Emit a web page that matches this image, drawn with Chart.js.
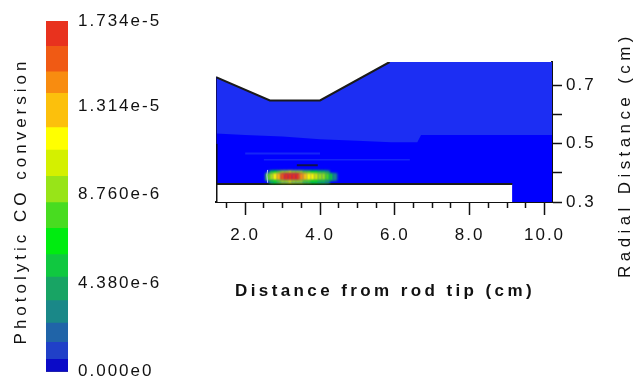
<!DOCTYPE html>
<html>
<head>
<meta charset="utf-8">
<script src="https://cdn.jsdelivr.net/npm/chart.js@4.4.1/dist/chart.umd.min.js"></script>
<style>
  html, body { margin: 0; padding: 0; background: #fff; width: 637px; height: 392px; overflow: hidden; }
  #colorbar { position: absolute; left: 0; top: 0; }
  #field { position: absolute; left: 200px; top: 0; }
</style>
</head>
<body>
<canvas id="colorbar" width="200" height="392"></canvas>
<canvas id="field" width="437" height="392"></canvas>
<script>
// Contour levels of photolytic CO conversion (band edges, low to high)
const levels = [0, 0.62e-6, 1.46e-6, 2.41e-6, 3.52e-6, 4.68e-6, 5.79e-6, 7.09e-6, 8.36e-6,
                9.66e-6, 10.96e-6, 12.07e-6, 13.77e-6, 14.83e-6, 16.09e-6, 1.734e-5];
const levelColors = ['#0a0ac8', '#2040c8', '#2064a8', '#1a8888', '#18a464', '#10c840', '#00ec10',
                     '#48dc20', '#98e418', '#d4f000', '#ffff00', '#fcc00c', '#f88c10', '#f05a14', '#e8321e'];
const colorbarTicks = [0, 4.38e-6, 8.76e-6, 1.314e-5, 1.734e-5];

// Axis ranges and ticks of the field plot
const xRange = [1.22, 10.2];
const yRange = [0.3, 0.78];
const xTickValues = [2, 4, 6, 8, 10];
const xMinorTickValues = [1.5, 2.5, 3, 3.5, 4.5, 5, 5.5, 6.5, 7, 7.5, 8.5, 9, 9.5];
const yTickValues = [0.3, 0.4, 0.5, 0.6, 0.7];
const yTickLabels = ['0.3', '', '0.5', '', '0.7'];

// Reactor domain: upper boundary (distance, radius)
const domainX = [1.22, 2.66, 4.0, 5.86, 10.2];
const domainY = [0.728, 0.648, 0.648, 0.78, 0.78];
// Upper edge of the lowest conversion band
const innerX = [1.22, 2.0, 3.0, 4.0, 5.0, 5.9, 6.6, 6.7, 10.2];
const innerY = [0.535, 0.53, 0.525, 0.515, 0.51, 0.505, 0.505, 0.53, 0.53];
// Faint low-level streaks
const streakA = { x: [2.0, 4.0], y: [0.466, 0.466] };
const streakB = { x: [2.5, 6.4], y: [0.445, 0.445] };
// Lamp rod (white, no gas)
const rodX = [1.22, 9.14];
const rodY = [0.362, 0.362];

// Hot spot of conversion just above the rod surface
const spotX = [2.6, 2.7, 2.8, 2.9, 3.0, 3.1, 3.2, 3.3, 3.4, 3.5, 3.6, 3.7, 3.8, 3.9, 4.0, 4.1, 4.2, 4.3, 4.4];
const spotCore = [7.6e-6, 9.0e-6, 11.2e-6, 13.0e-6, 15.2e-6, 16.9e-6, 17.3e-6, 17.1e-6, 16.4e-6, 14.6e-6,
                  13.2e-6, 12.0e-6, 11.6e-6, 10.6e-6, 9.4e-6, 8.6e-6, 7.6e-6, 5.2e-6, 3.0e-6];
const spotEdgeX = [2.7, 2.8, 2.9, 3.0, 3.1, 3.2, 3.3, 3.4, 3.5, 3.6, 3.7, 3.8, 3.9, 4.0, 4.1, 4.2];
const spotEdge = [5.0e-6, 6.6e-6, 7.8e-6, 8.6e-6, 9.4e-6, 9.8e-6, 9.6e-6, 9.2e-6, 8.4e-6,
                  7.8e-6, 7.4e-6, 7.0e-6, 6.4e-6, 5.6e-6, 4.8e-6, 4.0e-6];
const spotRows = [
  { lo: 0.365, hi: 0.374, x: spotEdgeX, values: spotEdge },
  { lo: 0.374, hi: 0.398, x: spotX, values: spotCore },
  { lo: 0.398, hi: 0.407, x: spotEdgeX, values: spotEdge }
];
const spotMark = { x: [3.38, 3.94], y: [0.426, 0.426] };
const spotRim = { x: [2.6, 2.58, 2.6], y: [0.366, 0.392, 0.41] };

const titles = {
  colorbar: 'Photolytic CO conversion',
  x: 'Distance from rod tip (cm)',
  y: 'Radial Distance (cm)'
};

const FONT = '"Liberation Sans", Arial, sans-serif';
Chart.defaults.font.family = FONT;
Chart.defaults.color = '#111';

function levelColor(v) {
  for (let i = 0; i < levelColors.length; i++) {
    if (v <= levels[i + 1]) return levelColors[i];
  }
  return levelColors[levelColors.length - 1];
}

function sci(v) {
  return Number(v).toExponential(3).replace('e+', 'e');
}

function pts(xs, ys) {
  return xs.map((x, i) => ({ x: x, y: ys[i] }));
}

// Wider tracking for all canvas text
const tracking = {
  id: 'tracking',
  beforeLayout(chart) { chart.ctx.letterSpacing = '2px'; },
  beforeDraw(chart) { chart.ctx.letterSpacing = '2px'; }
};

// Soft edges for the conversion hot spot
const softSpot = {
  id: 'softSpot',
  beforeDatasetDraw(chart, args) {
    if (args.meta.type === 'bar') { chart.ctx.save(); chart.ctx.filter = 'blur(1.1px)'; }
  },
  afterDatasetDraw(chart, args) {
    if (args.meta.type === 'bar') { chart.ctx.restore(); }
  }
};

function drawText(ctx, text, x, y, angle, size, weight, spacing) {
  ctx.save();
  ctx.translate(x, y);
  ctx.rotate(angle);
  ctx.font = weight + ' ' + size + 'px ' + FONT;
  ctx.letterSpacing = spacing + 'px';
  ctx.fillStyle = '#111';
  ctx.textAlign = 'center';
  ctx.textBaseline = 'middle';
  ctx.fillText(text, 0, 0);
  ctx.restore();
}

// ---------- colour bar ----------
const bandSets = levelColors.map((c, i) => ({
  data: [[levels[i], levels[i + 1]]],
  backgroundColor: c,
  borderWidth: 0,
  grouped: false,
  barPercentage: 1,
  categoryPercentage: 1
}));
bandSets.push({
  data: [[levels[0], levels[levels.length - 1]]],
  backgroundColor: 'rgba(0,0,0,0)',
  borderColor: '#333',
  borderWidth: 1,
  borderSkipped: false,
  grouped: false,
  barPercentage: 1,
  categoryPercentage: 1
});

new Chart(document.getElementById('colorbar'), {
  type: 'bar',
  data: { labels: [''], datasets: bandSets },
  plugins: [tracking, {
    id: 'cbTitle',
    afterDraw(chart) {
      drawText(chart.ctx, titles.colorbar, 21, 201, -Math.PI / 2, 17, 'normal', 4);
    }
  }],
  options: {
    responsive: false,
    animation: false,
    events: [],
    layout: { padding: { top: 21, bottom: 12, left: 0, right: 0 } },
    plugins: { legend: { display: false }, tooltip: { enabled: false } },
    scales: {
      x: { display: false },
      y: {
        position: 'right',
        min: 0,
        max: 1.734e-5,
        afterBuildTicks(s) { s.ticks = colorbarTicks.map(v => ({ value: v })); },
        afterFit(s) { s.width = 132; },
        grid: { display: false, drawTicks: false },
        border: { display: false },
        ticks: { padding: 10, color: '#111', font: { size: 17 }, callback: v => sci(v) }
      },
      side: {
        position: 'left',
        afterFit(s) { s.width = 46; },
        grid: { display: false },
        border: { display: false },
        ticks: { display: false }
      }
    }
  }
});

// ---------- conversion field ----------
const spotSets = spotRows.map(row => ({
  type: 'bar',
  xAxisID: 'x',
  yAxisID: 'y',
  data: row.x.map(x => ({ x: x, y: [row.lo, row.hi] })),
  conv: row.values,
  backgroundColor: ctx => levelColor(ctx.dataset.conv[ctx.dataIndex]),
  borderWidth: 0,
  grouped: false,
  barPercentage: 1,
  categoryPercentage: 1,
  order: 5
}));

function lineSet(data, opts) {
  return Object.assign({
    type: 'line',
    xAxisID: 'x',
    yAxisID: 'y',
    data: data,
    pointRadius: 0,
    tension: 0,
    fill: false,
    borderWidth: 0
  }, opts);
}

new Chart(document.getElementById('field'), {
  type: 'line',
  data: {
    datasets: [
      lineSet(pts(domainX, domainY), { fill: 'start', backgroundColor: '#1c2ef3', borderColor: 'rgba(0,0,0,0)', order: 10 }),
      lineSet(pts(innerX, innerY), { fill: 'start', backgroundColor: '#0000fe', borderColor: 'rgba(0,0,0,0)', order: 9 }),
      lineSet(pts(streakA.x, streakA.y), { borderColor: '#1626f6', borderWidth: 2, order: 8 }),
      lineSet(pts(streakB.x, streakB.y), { borderColor: '#1424f6', borderWidth: 1.5, order: 8 }),
      lineSet(pts(rodX, rodY), { fill: 'start', backgroundColor: '#ffffff', borderColor: '#1a1a1a', borderWidth: 2, order: 7 }),
      ...spotSets,
      lineSet(pts(spotMark.x, spotMark.y), { borderColor: '#10104a', borderWidth: 2, order: 3 }),
      lineSet(pts(spotRim.x, spotRim.y), { borderColor: '#b8c4ff', borderWidth: 1, order: 3 }),
      lineSet(pts(domainX.slice(0, 4), domainY.slice(0, 4)), { borderColor: '#1a1a1a', borderWidth: 2, order: 2 }),
      lineSet(pts([xRange[0], xRange[0]], [yRange[0], 0.5]), { borderColor: '#111', borderWidth: 3, order: 1 }),
      lineSet(pts([xRange[0], xRange[0]], [0.5, domainY[0]]), { borderColor: '#10106a', borderWidth: 2, order: 1 })
    ]
  },
  plugins: [tracking, softSpot, {
    id: 'fieldTitles',
    afterDraw(chart) {
      drawText(chart.ctx, titles.x, 185, 291, 0, 17, 'bold', 3.4);
      drawText(chart.ctx, titles.y, 425, 155, -Math.PI / 2, 17, 'normal', 4.4);
    }
  }],
  options: {
    responsive: false,
    animation: false,
    events: [],
    layout: { padding: { top: 62, left: 16, right: 0, bottom: 0 } },
    plugins: { legend: { display: false }, tooltip: { enabled: false } },
    scales: {
      x: {
        type: 'linear',
        position: 'bottom',
        weight: 1,
        min: xRange[0],
        max: xRange[1],
        offset: false,
        afterBuildTicks(s) { s.ticks = xTickValues.map(v => ({ value: v })); },
        afterFit(s) { s.height = 190; },
        grid: { drawOnChartArea: false, offset: false, tickLength: 13, tickColor: '#111', tickWidth: 1.5 },
        border: { color: '#111', width: 2 },
        ticks: { padding: 10, color: '#111', font: { size: 17 }, maxRotation: 0, autoSkip: false,
                 callback: v => Number(v).toFixed(1) }
      },
      xMinor: {
        type: 'linear',
        position: 'bottom',
        weight: 0,
        min: xRange[0],
        max: xRange[1],
        offset: false,
        afterBuildTicks(s) { s.ticks = xMinorTickValues.map(v => ({ value: v })); },
        afterFit(s) { s.height = 0; },
        grid: { drawOnChartArea: false, offset: false, tickLength: 6, tickColor: '#111', tickWidth: 1.5 },
        border: { display: false },
        ticks: { display: false }
      },
      y: {
        type: 'linear',
        position: 'right',
        min: yRange[0],
        max: yRange[1],
        afterBuildTicks(s) { s.ticks = yTickValues.map(v => ({ value: v })); },
        afterFit(s) { s.width = 85; },
        grid: { drawOnChartArea: false, tickLength: 10, tickColor: '#111', tickWidth: 1.5 },
        border: { color: '#111', width: 2 },
        ticks: { padding: 4, color: '#111', font: { size: 17 }, autoSkip: false,
                 callback: (v, i) => yTickLabels[i] }
      }
    }
  }
});
</script>
</body>
</html>
